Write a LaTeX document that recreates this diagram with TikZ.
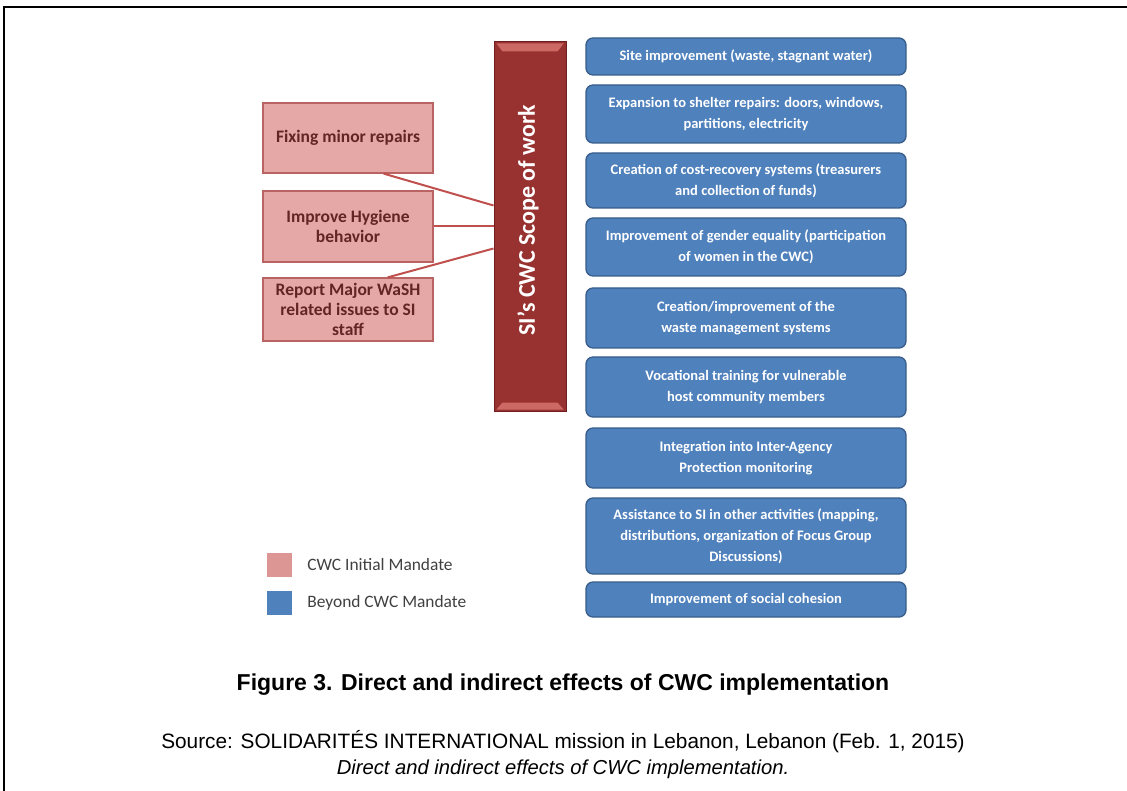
\documentclass[tikz,border=0pt]{standalone}
\usepackage{fontspec}
\setmainfont{Carlito}
\newfontfamily\capfont{Liberation Sans}
\usetikzlibrary{calc,positioning}
\definecolor{barfill}{RGB}{152,50,48}
\definecolor{barline}{RGB}{112,30,30}
\definecolor{barlight}{RGB}{205,105,100}
\definecolor{mandatefill}{RGB}{230,168,166}
\definecolor{mandateline}{RGB}{185,100,98}
\definecolor{mandatetext}{RGB}{99,37,35}
\definecolor{mandatekey}{RGB}{220,150,148}
\definecolor{linkred}{RGB}{192,80,77}
\definecolor{beyondfill}{RGB}{79,129,189}
\definecolor{beyondline}{RGB}{56,93,138}
\definecolor{keygrey}{RGB}{64,64,64}
\tikzset{
	scopebar/.style={draw=barline, fill=barfill, line width=1pt, inner sep=0pt},
	mandate/.style={draw=mandateline, fill=mandatefill, line width=1.2pt, minimum width=170pt, inner sep=0pt, align=center, text=mandatetext, font=\bfseries\fontsize{17.5}{20}\selectfont},
	beyond/.style={draw=beyondline, fill=beyondfill, line width=1.3pt, rounded corners=7pt, minimum width=320pt, inner sep=0pt, align=center, text=white, font=\bfseries\fontsize{14.5}{21}\selectfont},
	link/.style={draw=linkred, line width=2pt},
	keybox/.style={minimum width=25pt, minimum height=24pt, inner sep=0pt},
	keytext/.style={inner sep=0pt, text=keygrey, font=\fontsize{17.4}{20}\selectfont}
}

\begin{document}
\begin{tikzpicture}[x=1pt, y=-1pt]
			%%%%% START %%%%%
			\useasboundingbox (0,0) rectangle (1127,791);
			\draw[line width=2.5pt] (4,800) -- (4,7) -- (1135,7);
			
			% scope bar
			\node[scopebar, minimum width=72pt, minimum height=369pt] (bar) at (530,226.5) {};
			\fill[barlight] ($(bar.north west)+(3,2)$) -- ($(bar.north east)+(-3,2)$) -- ($(bar.north east)+(-9,10)$) -- ($(bar.north west)+(9,10)$) -- cycle;
			\fill[barlight] ($(bar.south west)+(3,-2)$) -- ($(bar.south east)+(-3,-2)$) -- ($(bar.south east)+(-9,-9)$) -- ($(bar.south west)+(9,-9)$) -- cycle;
			\node[rotate=90, text=white, font=\bfseries\fontsize{24}{28}\selectfont] (barlabel) at (528,220) {SI's CWC Scope of work};
			
			% initial mandate
			\node[mandate, minimum height=70pt] (fix) at (348,138) {Fixing minor repairs};
			\node[mandate, minimum height=71pt] (hyg) at (348,226.5) {Improve Hygiene\\behavior};
			\node[mandate, minimum height=63pt] (rep) at (348,309.5) {Report Major WaSH\\related issues to SI\\staff};
			
			\draw[link] (fix.-45) -- ($(bar.west)+(0,-21)$);
			\draw[link] (hyg.east) -- (hyg.east -| bar.west);
			\draw[link] (rep.39) -- ($(bar.west)+(0,22)$);
			
			% beyond mandate
			\node[beyond, minimum height=37pt] (site) at (746,56.5) {Site improvement (waste, stagnant water)};
			\node[beyond, minimum height=58pt] (shelter) at (746,114) {Expansion to shelter repairs: doors, windows,\\partitions, electricity};
			\node[beyond, minimum height=55pt] (cost) at (746,180.5) {Creation of cost-recovery systems (treasurers\\and collection of funds)};
			\node[beyond, minimum height=58pt] (gender) at (746,247) {Improvement of gender equality (participation\\of women in the CWC)};
			\node[beyond, minimum height=60pt] (waste) at (746,318) {Creation/improvement of the\\waste management systems};
			\node[beyond, minimum height=60pt] (training) at (746,387) {Vocational training for vulnerable\\host community members};
			\node[beyond, minimum height=60pt] (agency) at (746,458) {Integration into Inter-Agency\\Protection monitoring};
			\node[beyond, minimum height=76pt] (assist) at (746,536) {Assistance to SI in other activities (mapping,\\distributions, organization of Focus Group\\Discussions)};
			\node[beyond, minimum height=35pt] (cohesion) at (746,599.5) {Improvement of social cohesion};
			
			% legend
			\node[keybox, fill=mandatekey] (keyinit) at (279.5,565) {};
			\node[keytext, right=15pt of keyinit] (keyinitlabel) {CWC Initial Mandate};
			\node[keybox, fill=beyondfill] (keybeyond) at (279.5,602.5) {};
			\node[keytext, right=15pt of keybeyond] (keybeyondlabel) {Beyond CWC Mandate};
			
			% caption
			\node[anchor=base, inner sep=0pt, font=\capfont\bfseries\fontsize{23}{27}\selectfont] (figcap) at (563,690) {Figure 3. Direct and indirect effects of CWC implementation};
			\node[anchor=base, inner sep=0pt, font=\capfont\fontsize{20.8}{24}\selectfont] (source) at (563,748) {Source: SOLIDARITÉS INTERNATIONAL mission in Lebanon, Lebanon (Feb. 1, 2015)};
			\node[anchor=base, inner sep=0pt, font=\capfont\itshape\fontsize{20.2}{24}\selectfont] (sourcetitle) at (563,774) {Direct and indirect effects of CWC implementation.};
			
			%%%%% END %%%%%
\end{tikzpicture}
\end{document}
